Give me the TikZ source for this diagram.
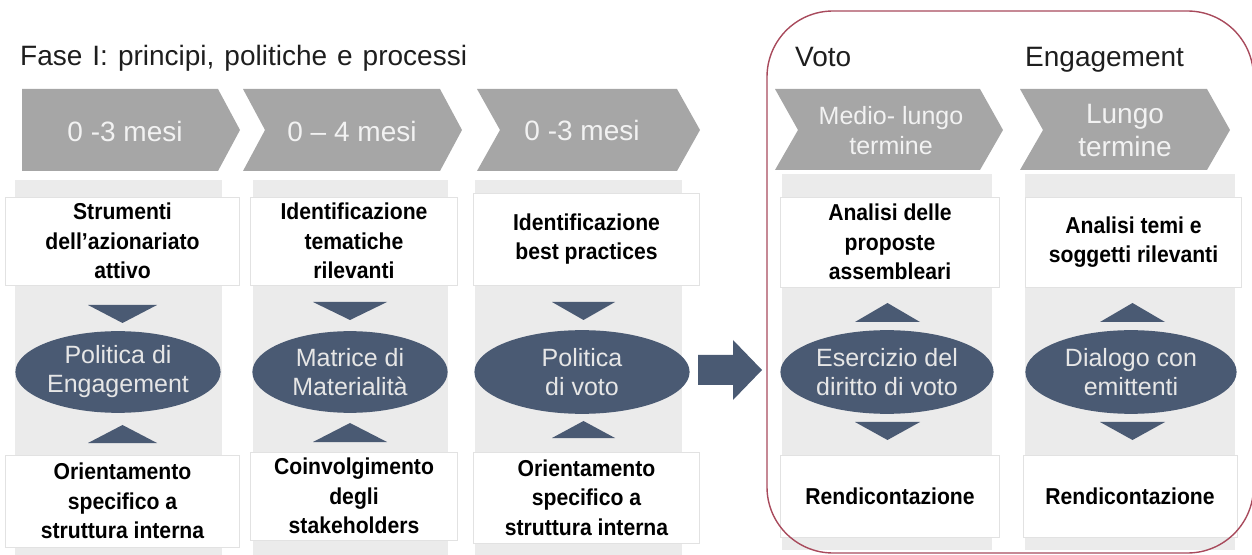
\documentclass[tikz,border=0pt]{standalone}
\usepackage{fontspec}
\setmainfont{Liberation Sans}
\newfontfamily\boxfont[FakeStretch=0.92,Ligatures=TeX]{Liberation Sans}
\usetikzlibrary{shapes.geometric}
\definecolor{chevgray}{HTML}{A6A6A6}
\definecolor{chevtxt}{HTML}{F2F2F2}
\definecolor{panelgray}{HTML}{EBEBEB}
\definecolor{navy}{HTML}{4A5A73}
\definecolor{ovaltxt}{HTML}{E6E6E6}
\definecolor{boxline}{HTML}{E2E2E2}
\definecolor{redline}{HTML}{A84A5C}
\definecolor{titletxt}{HTML}{1E1E1E}
\tikzset{
  chev/.style={fill=chevgray, draw=none},
  chevtext/.style={text=chevtxt, align=center, inner sep=0, font=\fontsize{28bp}{33bp}\selectfont},
  panel/.style={fill=panelgray, draw=none},
  wbox/.style={fill=white, draw=boxline, line width=0.6bp, align=center, inner sep=0, text=black,
    font=\boxfont\bfseries\fontsize{23bp}{29.5bp}\selectfont},
  oval/.style={ellipse, fill=navy, draw=none, text=ovaltxt, inner sep=0, align=center,
    font=\fontsize{25bp}{29bp}\selectfont},
  tri/.style={fill=navy, draw=none},
  heading/.style={text=titletxt, inner sep=0, anchor=base west, font=\fontsize{28bp}{32bp}\selectfont},
  frame/.style={draw=redline, line width=1.4bp, rounded corners=66bp},
}
\begin{document}
\begin{tikzpicture}[x=1bp,y=-1bp]
\useasboundingbox (0,0) rectangle (1252,555);
\clip (0,0) rectangle (1252,555);

% headings
\node[heading] (title) at (20,66) {\spaceskip=10bp plus 1bp Fase I: principi, politiche e processi};
\node[heading] (voto) at (795,67) {Voto};
\node[heading] (eng) at (1025,67) {Engagement};

% chevrons
\fill[chev] (22,89) -- (218,89) -- (240,130) -- (218,171) -- (22,171) -- cycle;
\fill[chev] (243,89) -- (440,89) -- (462,130) -- (440,171) -- (243,171) -- (265,130) -- cycle;
\fill[chev] (477,89) -- (677,89) -- (700,130) -- (677,171) -- (477,171) -- (500,130) -- cycle;
\fill[chev] (775,89) -- (980,89) -- (1003,130) -- (980,170) -- (775,170) -- (798,130) -- cycle;
\fill[chev] (1020,89) -- (1207,89) -- (1230,130) -- (1207,170) -- (1020,170) -- (1043,130) -- cycle;
\node[chevtext] (t1) at (125,131) {0 -3 mesi};
\node[chevtext] (t2) at (352,131) {0 -- 4 mesi};
\node[chevtext] (t3) at (582,130) {0 -3 mesi};
\node[chevtext, font=\fontsize{25bp}{30bp}\selectfont] (t4) at (891,131) {Medio- lungo\\termine};
\node[chevtext] (t5) at (1125,131) {Lungo\\termine};

% grey panels
\fill[panel] (15,180) rectangle (222,555);
\fill[panel] (253,180) rectangle (448,555);
\fill[panel] (475,180) rectangle (682,555);
\fill[panel] (782,174) rectangle (992,550);
\fill[panel] (1025,174) rectangle (1235,550);

% white boxes top
\node[wbox, minimum width=235, minimum height=88] (a1) at (122.5,241) {Strumenti\\dell’azionariato\\attivo};
\node[wbox, minimum width=208, minimum height=88] (a2) at (354,241) {Identificazione\\tematiche\\rilevanti};
\node[wbox, minimum width=227, minimum height=92] (a3) at (586.5,239) {Identificazione\\best practices};
\node[wbox, minimum width=220, minimum height=90] (a4) at (890,242) {Analisi delle\\proposte\\assembleari};
\node[wbox, minimum width=217, minimum height=90] (a5) at (1133.5,242) {Analisi temi e\\soggetti rilevanti};

% white boxes bottom
\node[wbox, minimum width=235, minimum height=92] (b1) at (122.5,501) {Orientamento\\specifico a\\struttura interna};
\node[wbox, minimum width=208, minimum height=88] (b2) at (354,496) {Coinvolgimento\\degli\\stakeholders};
\node[wbox, minimum width=227, minimum height=91] (b3) at (586.5,497.5) {Orientamento\\specifico a\\struttura interna};
\node[wbox, minimum width=220, minimum height=82] (b4) at (890,496) {Rendicontazione};
\node[wbox, minimum width=215, minimum height=82] (b5) at (1130,496) {Rendicontazione};

% ellipses
\node[oval, minimum width=206, minimum height=82] (e1) at (118,372) {Politica di\\Engagement};
\node[oval, minimum width=196, minimum height=82] (e2) at (350,372) {Matrice di\\Materialit\`a};
\node[oval, minimum width=216, minimum height=84] (e3) at (582,372) {Politica\\di voto};
\node[oval, minimum width=214, minimum height=84] (e4) at (887,372) {Esercizio del\\diritto di voto};
\node[oval, minimum width=212, minimum height=84] (e5) at (1131,372) {Dialogo con\\emittenti};

% triangles
\fill[tri] (88,305) -- (157,305) -- (122.5,323) -- cycle;
\fill[tri] (88,443) -- (157,443) -- (122.5,425) -- cycle;
\fill[tri] (313,302) -- (387,302) -- (350,320) -- cycle;
\fill[tri] (313,442) -- (387,442) -- (350,423) -- cycle;
\fill[tri] (552,302) -- (615,302) -- (583.5,320) -- cycle;
\fill[tri] (552,438) -- (615,438) -- (583.5,421) -- cycle;
\fill[tri] (855,322) -- (920,322) -- (887.5,303) -- cycle;
\fill[tri] (855,422) -- (920,422) -- (887.5,440) -- cycle;
\fill[tri] (1100,322) -- (1165,322) -- (1132.5,303) -- cycle;
\fill[tri] (1100,422) -- (1165,422) -- (1132.5,440) -- cycle;

% big arrow
\fill[tri] (698,355) -- (733,355) -- (733,340) -- (762,370) -- (733,400) -- (733,385) -- (698,385) -- cycle;

% red frame
\draw[frame] (767,11) rectangle (1253.5,553);
\end{tikzpicture}
\end{document}
